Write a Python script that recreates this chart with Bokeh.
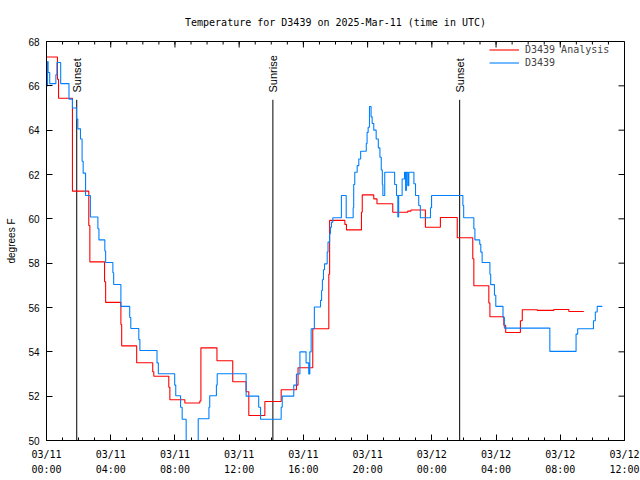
import pandas as pd
from math import pi
from bokeh.plotting import figure
from bokeh.models import (Range1d, FixedTicker, DatetimeTickFormatter,
                          Legend, LegendItem, ColumnDataSource)
from bokeh.core.properties import value
from bokeh.embed import file_html
from bokeh.resources import INLINE

YEAR = "2025-"

# ---- data ----
red_time = ["03-11 00:00", "03-11 00:41", "03-11 00:45", "03-11 01:37", "03-11 02:38", "03-11 02:42",
            "03-11 03:37", "03-11 03:41", "03-11 04:38", "03-11 04:41", "03-11 05:37", "03-11 06:37",
            "03-11 06:41", "03-11 07:37", "03-11 07:41", "03-11 08:37", "03-11 09:33", "03-11 09:37",
            "03-11 10:37", "03-11 11:36", "03-11 12:26", "03-11 12:36", "03-11 13:36", "03-11 14:37",
            "03-11 15:34", "03-11 15:40", "03-11 16:35", "03-11 17:35", "03-11 17:38", "03-11 18:35",
            "03-11 18:41", "03-11 19:37", "03-11 19:40", "03-11 20:23", "03-11 20:35", "03-11 21:34",
            "03-11 22:30", "03-11 22:42", "03-11 23:36", "03-12 00:32", "03-12 01:35", "03-12 02:33",
            "03-12 02:37", "03-12 03:33", "03-12 03:37", "03-12 04:29", "03-12 04:36", "03-12 05:31",
            "03-12 05:38", "03-12 06:34", "03-12 07:36", "03-12 08:32", "03-12 09:28"]
red_temp = [67.3, 66.3, 65.44, 61.25, 59.7, 58.06,
            57.16, 56.23, 55.23, 54.27, 53.51, 53.1,
            52.9, 52.4, 51.84, 51.69, 51.78, 54.18,
            53.6, 52.65, 52.2, 51.13, 51.76, 52.29,
            52.5, 53.28, 55.04, 57.5, 59.93, 59.75,
            59.5, 60.3, 61.08, 60.9, 60.68, 60.3,
            60.35, 60.4, 59.62, 60.06, 59.15, 58.2,
            56.98, 56.2, 55.58, 55.2, 54.87, 55.4,
            55.9, 55.87, 55.91, 55.82, 55.82]

blue_time = ["03-11 00:00", "03-11 00:04", "03-11 00:06", "03-11 00:12", "03-11 00:35", "03-11 00:39",
             "03-11 00:53", "03-11 01:24", "03-11 01:37", "03-11 01:52", "03-11 01:57", "03-11 02:07",
             "03-11 02:13", "03-11 02:17", "03-11 02:26", "03-11 02:44", "03-11 03:12", "03-11 03:16",
             "03-11 03:38", "03-11 03:41", "03-11 04:08", "03-11 04:11", "03-11 04:38", "03-11 05:11",
             "03-11 05:15", "03-11 05:45", "03-11 05:49", "03-11 06:53", "03-11 06:58", "03-11 07:59",
             "03-11 08:03", "03-11 08:21", "03-11 08:27", "03-11 08:42", "03-11 09:27", "03-11 10:07",
             "03-11 10:10", "03-11 10:35", "03-11 10:38", "03-11 12:26", "03-11 13:13", "03-11 13:20",
             "03-11 14:37", "03-11 14:41", "03-11 15:24", "03-11 15:34", "03-11 15:47", "03-11 16:10",
             "03-11 16:20", "03-11 16:24", "03-11 16:29", "03-11 16:41", "03-11 17:04", "03-11 17:08",
             "03-11 17:11", "03-11 17:15", "03-11 17:19", "03-11 17:29", "03-11 17:32", "03-11 17:38",
             "03-11 17:41", "03-11 17:45", "03-11 17:50", "03-11 18:22", "03-11 18:40", "03-11 19:06",
             "03-11 19:08", "03-11 19:12", "03-11 19:21", "03-11 19:27", "03-11 19:34", "03-11 19:55",
             "03-11 19:58", "03-11 20:02", "03-11 20:07", "03-11 20:13", "03-11 20:17", "03-11 20:23",
             "03-11 20:32", "03-11 20:40", "03-11 20:46", "03-11 20:51", "03-11 20:55", "03-11 20:57",
             "03-11 21:04", "03-11 21:41", "03-11 21:48", "03-11 21:53", "03-11 21:56", "03-11 22:09",
             "03-11 22:18", "03-11 22:22", "03-11 22:25", "03-11 22:30", "03-11 22:34", "03-11 22:53",
             "03-11 22:59", "03-11 23:11", "03-11 23:17", "03-11 23:55", "03-11 23:59", "03-12 01:56",
             "03-12 01:59", "03-12 02:37", "03-12 02:41", "03-12 02:59", "03-12 03:03", "03-12 03:08",
             "03-12 03:37", "03-12 03:40", "03-12 03:54", "03-12 03:59", "03-12 04:26", "03-12 04:31",
             "03-12 07:21", "03-12 08:59", "03-12 09:05", "03-12 10:04", "03-12 10:11", "03-12 10:18",
             "03-12 10:37"]
blue_temp = [66.0, 67.1, 66.6, 66.1, 66.5, 67.05,
             66.1, 65.4, 65.0, 64.5, 64.06, 63.6,
             62.6, 62.06, 61.05, 60.08, 59.55, 59.05,
             58.55, 58.03, 57.57, 57.04, 56.05, 55.55,
             55.05, 54.55, 54.06, 53.5, 53.01, 52.5,
             52.02, 51.5, 50.96, 49.5, 50.98, 51.5,
             52.02, 52.5, 53.01, 52.0, 51.5, 50.96,
             51.5, 52.0, 52.5, 53.0, 54.0, 53.5,
             53.0, 54.0, 55.04, 56.02, 56.32, 56.77,
             57.25, 57.7, 57.97, 58.5, 58.95, 59.33,
             59.62, 59.85, 60.05, 61.05, 60.05, 60.5,
             61.55, 62.1, 62.4, 62.7, 63.05, 63.4,
             63.9, 64.13, 65.07, 64.6, 64.3, 64.0,
             63.6, 63.2, 62.78, 62.2, 61.55, 61.05,
             62.1, 61.55, 61.05, 60.08, 61.05, 61.8,
             62.1, 61.28, 62.1, 61.5, 62.1, 61.58,
             61.05, 60.6, 60.05, 60.5, 61.05, 60.6,
             60.05, 59.55, 59.05, 58.85, 58.5, 58.03,
             57.5, 57.03, 56.55, 56.05, 55.55, 55.07,
             54.02, 54.8, 55.04, 55.4, 55.8, 56.05,
             56.05]

sun_time = ["03-11 01:53", "03-11 14:06", "03-12 01:44"]
sun_label = ["Sunset", "Sunrise", "Sunset"]

x_tick_time = ["03-11 00:00", "03-11 04:00", "03-11 08:00", "03-11 12:00", "03-11 16:00",
               "03-11 20:00", "03-12 00:00", "03-12 04:00", "03-12 08:00", "03-12 12:00"]
y_ticks = [50, 52, 54, 56, 58, 60, 62, 64, 66, 68]

TITLE = "Temperature for D3439 on 2025-Mar-11 (time in UTC)"
Y_LABEL = "degrees F"


def to_dt(lst):
    return pd.to_datetime([YEAR + s for s in lst], format="%Y-%m-%d %H:%M")


def to_ms(idx):
    return [int(v) for v in ((idx - pd.Timestamp("1970-01-01")) // pd.Timedelta(milliseconds=1))]


MONO = "DejaVu Sans Mono"
SANS = "Liberation Sans"

x_major_dt = to_dt(x_tick_time)
x_minor_dt = pd.date_range(YEAR + "03-11 00:00", YEAR + "03-12 12:00", freq="1h")
x_start, x_end = x_major_dt[0], x_major_dt[-1]

p = figure(width=640, height=480, x_axis_type="datetime",
           x_range=Range1d(x_start, x_end),
           y_range=Range1d(y_ticks[0], y_ticks[-1]),
           output_backend="svg", toolbar_location=None,
           min_border_left=46, min_border_right=16, min_border_top=41, min_border_bottom=40)
p.background_fill_color = "white"
p.border_fill_color = "white"
p.outline_line_color = "black"
p.outline_line_width = 1
p.grid.visible = False

p.title.text = TITLE
p.title.align = "center"
p.title.text_font = MONO
p.title.text_font_size = "10px"
p.title.text_font_style = "normal"
p.title.text_color = "black"
p.title.standoff = 27

fmt_str = "%m/%d\n%H:%M"
xfmt = DatetimeTickFormatter(microseconds=fmt_str, milliseconds=fmt_str, seconds=fmt_str,
                             minsec=fmt_str, minutes=fmt_str, hourmin=fmt_str, hours=fmt_str,
                             days=fmt_str, months=fmt_str, years=fmt_str,
                             strip_leading_zeros=False)


def style_axis(ax):
    ax.axis_line_color = "black"
    ax.major_tick_line_color = "black"
    ax.minor_tick_line_color = "black"
    ax.major_tick_in = 6
    ax.major_tick_out = 0
    ax.minor_tick_in = 3
    ax.minor_tick_out = 0
    ax.major_label_text_color = "black"


xa = p.xaxis[0]
xa.ticker = FixedTicker(ticks=to_ms(x_major_dt), minor_ticks=to_ms(x_minor_dt))
xa.formatter = xfmt
style_axis(xa)
xa.major_label_text_font = MONO
xa.major_label_text_font_size = "10px"
xa.major_label_standoff = 8
xa.major_label_text_line_height = 1.4

ya = p.yaxis[0]
ya.ticker = FixedTicker(ticks=y_ticks, minor_ticks=[])
style_axis(ya)
ya.major_label_text_font = SANS
ya.major_label_text_font_size = "10px"
ya.major_label_standoff = 7
ya.axis_label = Y_LABEL
ya.axis_label_text_font = SANS
ya.axis_label_text_font_size = "10px"
ya.axis_label_text_font_style = "normal"
ya.axis_label_text_color = "black"
ya.axis_label_standoff = 8

# mirrored ticks on the top and right edges of the frame
p.ray(x=x_major_dt, y=y_ticks[-1], length=6, length_units="screen", angle=-pi / 2,
      line_color="black", line_width=1)
p.ray(x=x_minor_dt, y=y_ticks[-1], length=3, length_units="screen", angle=-pi / 2,
      line_color="black", line_width=1)
p.ray(x=x_end, y=y_ticks, length=6, length_units="screen", angle=pi,
      line_color="black", line_width=1)

# sunrise / sunset markers
sun_src = ColumnDataSource(dict(x=to_dt(sun_time), label=sun_label))
p.segment(x0="x", y0=y_ticks[0], x1="x", y1=65.37, source=sun_src,
          line_color="black", line_width=1)
p.text(x="x", y=65.7, text="label", source=sun_src, angle=pi / 2,
       text_align="left", text_baseline="middle", x_offset=0,
       text_font=value(SANS), text_font_size="11px", text_color="black")

r_red = p.step(x=to_dt(red_time), y=red_temp, mode="after", line_color="#ff0000", line_width=1.1)
r_blue = p.step(x=to_dt(blue_time), y=blue_temp, mode="after", line_color="#0080ff", line_width=1.1)

legend = Legend(items=[LegendItem(label="D3439 Analysis", renderers=[r_red]),
                       LegendItem(label="D3439", renderers=[r_blue])],
                location=(443, 371), label_text_font=MONO, label_text_font_size="10px",
                glyph_width=30, glyph_height=13, label_height=13, label_standoff=6,
                spacing=0, padding=0, margin=0, border_line_color=None,
                background_fill_alpha=0)
p.add_layout(legend)

open("out.html", "w").write(file_html(p, INLINE))
